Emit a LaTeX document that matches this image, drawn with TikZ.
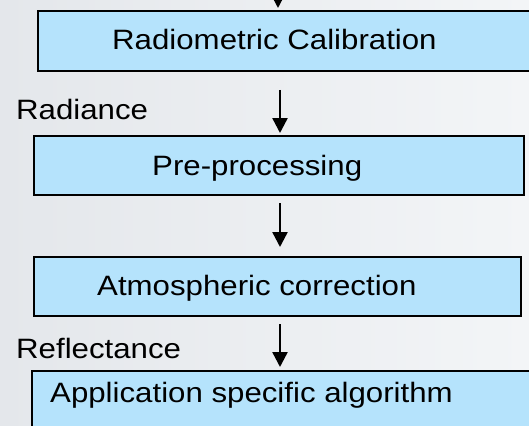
\documentclass[tikz,border=0pt]{standalone}
\usepackage{fontspec}
\setmainfont{Liberation Sans}
\newfontfamily\flowfont[FakeStretch=1.115]{Liberation Sans}
\usetikzlibrary{arrows.meta}
\definecolor{boxblue}{RGB}{181,227,252}
\definecolor{bgleft}{RGB}{228,231,235}
\definecolor{bgright}{RGB}{243,245,247}
\tikzset{
  stagebox/.style={draw=black, line width=1.6pt, fill=boxblue, rectangle,
    anchor=north west, inner sep=0pt},
  stagetext/.style={anchor=base west, inner sep=0pt, font=\flowfont\fontsize{28}{32}\selectfont},
  tagtext/.style={stagetext},
  flow/.style={line width=2.4pt, -{Triangle[length=15pt,width=15pt]}}
}
\begin{document}
\begin{tikzpicture}[x=1pt, y=-1pt]
  % page frame and soft grey backdrop
  \useasboundingbox (0,0) rectangle (529,425);
  \shade[left color=bgleft, right color=bgright] (0,0) rectangle (529,425);
  \begin{scope}
    \clip (0,0) rectangle (529,425);
    % processing stages
    \node[stagebox, minimum width=510pt, minimum height=60pt] (calib) at (37,10) {};
    \node[stagebox, minimum width=490pt, minimum height=59pt] (prep) at (33,135) {};
    \node[stagebox, minimum width=487pt, minimum height=59pt] (atmo) at (33,256) {};
    \node[stagebox, minimum width=510pt, minimum height=70pt] (appl) at (31,370) {};
  \end{scope}
  % stage captions
  \node[stagetext] (calibtext) at (112,50) {Radiometric Calibration};
  \node[stagetext] (preptext) at (152,175.5) {Pre-processing};
  \node[stagetext] (atmotext) at (97,295.5) {Atmospheric correction};
  \node[stagetext] (appltext) at (50,402) {Application specific algorithm};
  % product names between stages
  \node[tagtext] (radiance) at (16,119) {Radiance};
  \node[tagtext] (reflect) at (16,358) {Reflectance};
  % arrow end points
  \coordinate (a0s) at (278,-4);
  \coordinate (a0e) at (278,8);
  \coordinate (a1s) at (280,90);
  \coordinate (a1e) at (280,133);
  \coordinate (a2s) at (280,203);
  \coordinate (a2e) at (280,247);
  \coordinate (a3s) at (280,324);
  \coordinate (a3e) at (280,367);
  % flow arrows
  \draw[flow] (a0s) -- (a0e);
  \draw[flow] (a1s) -- (a1e);
  \draw[flow] (a2s) -- (a2e);
  \draw[flow] (a3s) -- (a3e);
\end{tikzpicture}
\end{document}
